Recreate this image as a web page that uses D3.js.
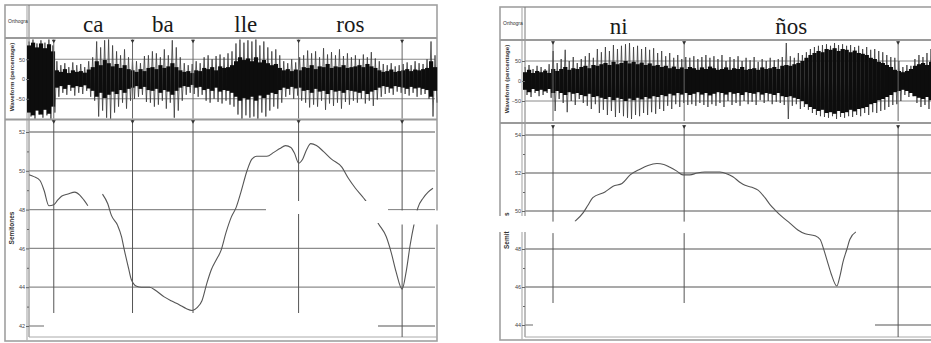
<!DOCTYPE html>
<html>
<head>
<meta charset="utf-8">
<script src="https://cdn.jsdelivr.net/npm/d3@7"></script>
<style>
  body { margin: 0; background: #fff; }
  svg { display: block; }
  .syl { font-family: "Liberation Serif", "Times New Roman", serif; font-size: 23px; fill: #1a1a1a; }
  .small { font-family: "Liberation Sans", Arial, sans-serif; fill: #333; }
</style>
</head>
<body>
<svg id="chart" width="931" height="343"></svg>
<script>
// ---- data (time is a fraction of each recording) ----
const waveTicks = [-50, 0, 50]

const leftLabels = ['ca', 'ba', 'lle', 'ros']
const leftBounds = [0.061, 0.255, 0.404, 0.664, 0.919]
const leftPitchTicks = [42, 44, 46, 48, 50, 52]
const leftPitchA = [[0, 49.8], [0.012, 49.7], [0.027, 49.5], [0.037, 49.0], [0.049, 48.2], [0.061, 48.25],
  [0.071, 48.5], [0.081, 48.7], [0.096, 48.8], [0.113, 48.9], [0.125, 48.75], [0.135, 48.5], [0.145, 48.2]]
const leftPitchB = [[0.181, 48.8], [0.194, 48.3], [0.203, 47.7], [0.218, 47.2], [0.228, 46.6], [0.235, 45.9],
  [0.245, 45.0], [0.252, 44.4], [0.265, 44.05], [0.277, 44.0], [0.297, 44.0], [0.314, 43.8], [0.333, 43.5],
  [0.350, 43.3], [0.370, 43.1], [0.387, 42.9], [0.402, 42.8], [0.414, 42.95], [0.426, 43.3], [0.438, 44.2],
  [0.449, 44.9], [0.461, 45.4], [0.473, 45.9], [0.485, 46.8], [0.498, 47.6], [0.510, 48.1], [0.522, 48.9],
  [0.537, 50.0], [0.549, 50.6], [0.561, 50.75], [0.586, 50.75], [0.603, 50.95], [0.618, 51.15], [0.632, 51.3],
  [0.645, 51.2], [0.654, 50.9], [0.664, 50.4], [0.674, 50.6], [0.684, 51.1], [0.694, 51.4], [0.708, 51.3],
  [0.725, 51.0], [0.745, 50.6], [0.770, 50.2], [0.787, 49.6], [0.804, 49.1], [0.824, 48.6], [0.841, 48.1],
  [0.860, 47.3], [0.880, 46.6], [0.892, 45.8], [0.904, 44.8], [0.919, 43.9], [0.929, 44.8], [0.939, 46.2],
  [0.949, 47.3], [0.958, 48.1], [0.971, 48.6], [0.983, 48.9], [0.995, 49.1]]
// waveform per column: peak spikes and dense core, percent of full scale
const leftSpikes = [95, 100, 90, 98, 92, 100, 85, 45, 35, 40, 30, 42, 35, 38, 30, 45, 55, 95, 80, 98, 100, 85,
  70, 60, 75, 55, 50, 45, 40, 58, 60, 70, 65, 55, 75, 60, 98, 80, 55, 40, 35, 38, 45, 40, 55, 60, 50, 58, 62,
  55, 65, 70, 90, 100, 92, 98, 95, 100, 85, 95, 80, 70, 75, 60, 45, 40, 50, 42, 55, 60, 72, 65, 70, 55, 78,
  62, 68, 60, 75, 58, 65, 55, 60, 50, 62, 55, 68, 52, 45, 38, 35, 40, 32, 35, 38, 42, 35, 45, 40, 38, 50, 95, 60]
const leftCore = [85, 92, 80, 90, 78, 88, 70, 22, 18, 25, 15, 22, 18, 20, 16, 24, 30, 45, 35, 48, 40, 32, 38,
  28, 35, 25, 22, 18, 25, 20, 28, 30, 25, 35, 28, 32, 40, 30, 22, 18, 20, 15, 22, 20, 28, 25, 30, 22, 32, 28,
  30, 35, 45, 55, 48, 52, 45, 55, 42, 48, 40, 35, 38, 28, 22, 25, 20, 24, 22, 30, 28, 35, 25, 32, 30, 38, 28,
  32, 30, 35, 28, 30, 32, 35, 30, 38, 32, 28, 22, 18, 20, 24, 18, 20, 22, 25, 20, 24, 22, 25, 28, 45, 30]

const rightLabels = ['ni', 'ños']
const rightBounds = [0.069, 0.392, 0.919]
const rightPitchTicks = [44, 46, 48, 50, 52, 54]
const rightPitch = [[0.123, 49.45], [0.143, 49.9], [0.155, 50.3], [0.167, 50.7], [0.197, 51.0], [0.217, 51.3],
  [0.239, 51.45], [0.259, 51.9], [0.283, 52.2], [0.303, 52.4], [0.325, 52.5], [0.342, 52.45], [0.357, 52.3],
  [0.374, 52.1], [0.389, 51.9], [0.406, 51.9], [0.424, 52.0], [0.443, 52.05], [0.480, 52.05], [0.498, 51.95],
  [0.512, 51.8], [0.530, 51.5], [0.542, 51.35], [0.559, 51.25], [0.574, 51.1], [0.591, 50.7], [0.603, 50.35],
  [0.616, 50.05], [0.633, 49.7], [0.653, 49.35], [0.672, 49.0], [0.690, 48.8], [0.714, 48.7], [0.727, 48.5],
  [0.734, 48.1], [0.744, 47.4], [0.754, 46.7], [0.768, 46.05], [0.776, 46.6], [0.783, 47.3], [0.793, 48.0],
  [0.800, 48.5], [0.815, 48.9]]
const rightSpikes = [35, 40, 30, 38, 35, 30, 42, 75, 45, 55, 78, 50, 60, 45, 55, 62, 70, 58, 80, 72, 85, 75,
  90, 80, 88, 92, 95, 85, 88, 80, 85, 78, 82, 70, 75, 62, 70, 58, 65, 55, 60, 58, 62, 55, 60, 65, 58, 62, 55,
  65, 50, 60, 55, 62, 50, 58, 52, 60, 48, 55, 50, 58, 52, 55, 60, 95, 62, 58, 70, 65, 72, 80, 85, 88, 90, 92,
  88, 95, 90, 92, 88, 90, 85, 88, 80, 85, 78, 80, 75, 72, 65, 60, 58, 50, 35, 40, 38, 55, 65, 60, 70, 80]
const rightCore = [22, 28, 20, 25, 22, 26, 20, 30, 25, 30, 35, 28, 32, 30, 35, 38, 32, 40, 38, 42, 45, 40, 48,
  42, 45, 50, 44, 48, 42, 46, 40, 44, 38, 40, 35, 38, 32, 36, 30, 34, 30, 35, 32, 28, 34, 30, 36, 32, 28, 30,
  34, 28, 32, 30, 35, 28, 30, 32, 28, 34, 30, 32, 35, 30, 38, 40, 38, 42, 45, 50, 58, 65, 70, 75, 72, 80, 78,
  82, 75, 80, 78, 72, 76, 70, 68, 65, 58, 55, 48, 45, 40, 35, 28, 25, 22, 25, 30, 38, 42, 45, 40, 48]

// ---- layout ----
const panels = [
  {
    labels: leftLabels, bounds: leftBounds, ticks: leftPitchTicks, pitch: [leftPitchA, leftPitchB],
    spikes: leftSpikes, core: leftCore, title: 'Semitones',
    box: { x0: 5, x1: 437, top: 5, bottom: 341 }, col: 27, l: 29, r: 435, tier: 38,
    wave: [39.5, 118.5], sep: 119.5, pTop: 120, pBottom: 337, pRange: [326, 132], shortEnd: 313,
    lowGrid: [[29, 44], [378, 435]],
    masks: [[266, 201, 106, 13], [372, 207, 16, 16], [388, 210.5, 54, 14]]
  },
  {
    labels: rightLabels, bounds: rightBounds, ticks: rightPitchTicks, pitch: [rightPitch],
    spikes: rightSpikes, core: rightCore, title: 'Semit',
    box: { x0: 500, x1: 935, top: 7, bottom: 340 }, col: 522, l: 525, r: 931, tier: 40,
    wave: [41, 121], sep: 123, pTop: 125, pBottom: 337, pRange: [325, 135], shortEnd: 303,
    lowGrid: [[525, 533], [875, 931]],
    masks: [[497, 216, 45, 16], [542, 221.6, 158, 11.5]]
  }
]

const svg = d3.select('#chart')
svg.append('rect').attr('width', 931).attr('height', 343).attr('fill', '#fff')

panels.forEach(p => {
  const g = svg.append('g')
  const n = p.spikes.length
  const x = d3.scaleLinear().domain([0, 1]).range([p.l, p.r])
  const xi = d3.scaleLinear().domain([0, n - 1]).range([p.l, p.r])
  const wy = d3.scaleLinear().domain([-100, 100]).range([p.wave[1], p.wave[0]])
  const py = d3.scaleLinear().domain([p.ticks[0], p.ticks[p.ticks.length - 1]]).range(p.pRange)
  const b = p.box

  // frame
  g.append('rect')
    .attr('x', b.x0).attr('y', b.top)
    .attr('width', b.x1 - b.x0).attr('height', b.bottom - b.top)
    .attr('fill', '#fff').attr('stroke', '#a0a0a0').attr('stroke-width', 1.6)
  g.append('line').attr('x1', p.col).attr('x2', p.col).attr('y1', b.top).attr('y2', b.bottom)
    .attr('stroke', '#b0b0b0').attr('stroke-width', 1.2)
  g.append('line').attr('x1', p.l).attr('x2', p.l).attr('y1', b.top).attr('y2', p.pBottom)
    .attr('stroke', '#7a7a7a').attr('stroke-width', 1)
  g.append('line').attr('x1', b.x0).attr('x2', b.x1).attr('y1', p.tier).attr('y2', p.tier)
    .attr('stroke', '#9a9a9a').attr('stroke-width', 2)
  g.append('line').attr('x1', b.x0).attr('x2', b.x1).attr('y1', p.sep).attr('y2', p.sep)
    .attr('stroke', '#9a9a9a').attr('stroke-width', 2)
  g.append('line').attr('x1', p.l).attr('x2', b.x1).attr('y1', p.pBottom).attr('y2', p.pBottom)
    .attr('stroke', '#aaa').attr('stroke-width', 1)

  // orthography tier
  g.append('text').attr('class', 'small').attr('x', b.x0 + 3).attr('y', b.top + 18)
    .attr('font-size', 5).text('Orthogra')
  g.selectAll('text.syl')
    .data(p.labels)
    .join('text')
    .attr('class', 'syl')
    .attr('text-anchor', 'middle')
    .attr('x', (d, i) => x((p.bounds[i] + p.bounds[i + 1]) / 2))
    .attr('y', p.tier - 6)
    .text(d => d)

  // waveform
  const wg = g.append('g')
  wg.selectAll('line.grid')
    .data(waveTicks.filter(d => d !== 0))
    .join('line')
    .attr('x1', p.l).attr('x2', p.r)
    .attr('y1', d => wy(d)).attr('y2', d => wy(d))
    .attr('stroke', '#8a8a8a').attr('stroke-width', 1)
  // spikes: each column swings up to +peak then down to -peak
  const zig = []
  p.spikes.forEach((d, i) => {
    zig.push([xi(i), wy(d)])
    zig.push([xi(i + 0.5), wy(-d)])
  })
  wg.append('path')
    .attr('d', d3.line()(zig))
    .attr('fill', 'none').attr('stroke', '#383838').attr('stroke-width', 0.8)
  // dense core: one bar per column, touching its neighbours
  const colW = xi(1) - xi(0)
  wg.selectAll('rect.core')
    .data(p.core)
    .join('rect')
    .attr('x', (d, i) => xi(i) - colW / 2).attr('width', colW + 0.2)
    .attr('y', d => wy(d)).attr('height', d => wy(-d) - wy(d))
    .attr('fill', '#0d0d0d')
  wg.selectAll('line.bound')
    .data(p.bounds)
    .join('line')
    .attr('x1', d => x(d)).attr('x2', d => x(d))
    .attr('y1', p.wave[0]).attr('y2', p.wave[1])
    .attr('stroke', '#666').attr('stroke-width', 1)

  // pitch gridlines
  const pg = g.append('g')
  pg.selectAll('line.grid')
    .data(p.ticks.slice(1))
    .join('line')
    .attr('x1', p.l).attr('x2', p.r)
    .attr('y1', d => py(d)).attr('y2', d => py(d))
    .attr('stroke', '#8c8c8c').attr('stroke-width', 1.3)
  pg.selectAll('line.low')
    .data(p.lowGrid)
    .join('line')
    .attr('x1', d => d[0]).attr('x2', d => d[1])
    .attr('y1', py(p.ticks[0])).attr('y2', py(p.ticks[0]))
    .attr('stroke', '#8c8c8c').attr('stroke-width', 1.3)
  pg.selectAll('line.bound')
    .data(p.bounds)
    .join('line')
    .attr('x1', d => x(d)).attr('x2', d => x(d))
    .attr('y1', p.pTop)
    .attr('y2', (d, i) => i === p.bounds.length - 1 ? p.pBottom : p.shortEnd)
    .attr('stroke', '#555').attr('stroke-width', 1)

  // boundary markers
  const tri = d3.symbol().type(d3.symbolTriangle).size(7)
  p.bounds.forEach(d => {
    ;[p.wave[0] + 1.5, p.pTop + 1.5].forEach(yy => {
      g.append('path').attr('d', tri())
        .attr('transform', `translate(${x(d)},${yy}) rotate(180)`).attr('fill', '#333')
    })
  })

  const line = d3.line().x(d => x(d[0])).y(d => py(d[1])).curve(d3.curveMonotoneX)
  pg.selectAll('path.f0')
    .data(p.pitch)
    .join('path')
    .attr('d', line)
    .attr('fill', 'none').attr('stroke', '#555').attr('stroke-width', 1.1)

  // axes
  const styleAxis = sel => {
    sel.select('.domain').remove()
    sel.attr('font-size', 5.5).attr('font-family', '"Liberation Sans", Arial, sans-serif')
    sel.selectAll('text').attr('fill', '#444')
    sel.selectAll('line').attr('stroke', '#666')
  }
  g.append('g').attr('transform', `translate(${p.l},0)`)
    .call(d3.axisLeft(wy).tickValues(waveTicks).tickSize(3).tickPadding(1))
    .call(styleAxis)
  g.append('g').attr('transform', `translate(${p.l},0)`)
    .call(d3.axisLeft(py).tickValues(p.ticks).tickSize(3).tickPadding(1))
    .call(styleAxis)
  g.append('g').attr('transform', `translate(${p.l},0)`)
    .call(d3.axisLeft(py).tickValues(d3.range(p.ticks[0] + 1, p.ticks[p.ticks.length - 1], 2)).tickSize(2).tickFormat(''))
    .call(styleAxis)

  g.append('text').attr('class', 'small')
    .attr('transform', `translate(${b.x0 + 9},${(p.wave[0] + p.wave[1]) / 2 - 2}) rotate(-90)`)
    .attr('text-anchor', 'middle').attr('font-size', 6.2).attr('font-weight', 'bold')
    .text('Waveform (percentage)')

  // scan gaps in the original figure
  g.selectAll('rect.mask')
    .data(p.masks)
    .join('rect')
    .attr('x', d => d[0]).attr('y', d => d[1])
    .attr('width', d => d[2]).attr('height', d => d[3])
    .attr('fill', '#fff')

  if (p.title === 'Semitones') {
    g.append('text').attr('class', 'small')
      .attr('transform', `translate(${b.x0 + 9},228) rotate(-90)`)
      .attr('text-anchor', 'middle').attr('font-size', 6.5).attr('font-weight', 'bold')
      .text(p.title)
  } else {
    g.append('text').attr('class', 'small')
      .attr('transform', `translate(${b.x0 + 9},249) rotate(-90)`)
      .attr('font-size', 6.5).attr('font-weight', 'bold')
      .text(p.title)
    g.append('text').attr('class', 'small')
      .attr('transform', `translate(${b.x0 + 9},216) rotate(-90)`)
      .attr('font-size', 6.5).attr('font-weight', 'bold')
      .text('s')
  }
})
</script>
</body>
</html>
